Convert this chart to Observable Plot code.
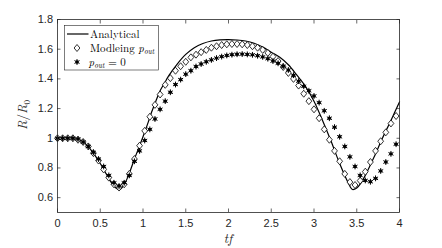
<!DOCTYPE html>
<html><head><meta charset="utf-8">
<script src="https://cdn.jsdelivr.net/npm/d3@7"></script>
<script src="https://cdn.jsdelivr.net/npm/@observablehq/plot@0.6"></script>
<style>body{margin:0;background:#fff} #chart{width:442px;height:248px}</style>
</head><body><div id="chart"></div>
<script>
// Analytical curve
const tLine = [0,0.1,0.2,0.25,0.3,0.35,0.4,0.45,0.5,0.55,0.6,0.65,0.7,0.72,0.75,0.8,0.85,0.9,0.95,1.0,1.05,1.1,1.15,1.2,1.25,1.3,1.4,1.5,1.6,1.7,1.8,1.9,2.0,2.1,2.2,2.3,2.4,2.5,2.6,2.7,2.8,2.9,3.0,3.1,3.2,3.3,3.4,3.45,3.5,3.55,3.6,3.7,3.8,3.9,4.0];
const rLine = [1.0,1.0,0.995,0.99,0.975,0.95,0.915,0.875,0.83,0.78,0.73,0.685,0.658,0.655,0.665,0.71,0.78,0.86,0.935,1.01,1.09,1.175,1.25,1.32,1.37,1.42,1.50,1.565,1.61,1.638,1.655,1.663,1.665,1.662,1.655,1.64,1.615,1.58,1.545,1.495,1.425,1.35,1.25,1.12,0.98,0.83,0.70,0.655,0.665,0.70,0.75,0.87,1.0,1.12,1.245];

// Sampled points
const tPts = [0,0.06,0.12,0.18,0.24,0.30,0.36,0.42,0.48,0.54,0.60,0.66,0.72,0.78,0.84,0.90,0.96,1.02,1.08,1.14,1.20,1.26,1.32,1.38,1.44,1.50,1.56,1.62,1.68,1.74,1.80,1.86,1.92,1.98,2.04,2.10,2.16,2.22,2.28,2.34,2.40,2.46,2.52,2.58,2.64,2.70,2.76,2.82,2.88,2.94,3.00,3.06,3.12,3.18,3.24,3.30,3.36,3.42,3.48,3.54,3.60,3.66,3.72,3.78,3.84,3.90,3.96];
const rModel = [1.0,1.0,1.0,1.0,0.99,0.975,0.945,0.90,0.85,0.79,0.735,0.69,0.668,0.69,0.76,0.86,0.95,1.05,1.145,1.225,1.295,1.36,1.405,1.455,1.485,1.515,1.545,1.563,1.58,1.595,1.61,1.62,1.628,1.633,1.635,1.635,1.633,1.628,1.62,1.61,1.595,1.575,1.55,1.52,1.48,1.44,1.40,1.355,1.30,1.25,1.195,1.135,1.06,0.99,0.915,0.845,0.76,0.705,0.685,0.715,0.775,0.84,0.915,0.98,1.04,1.10,1.15];
const rZero = [1.0,1.0,1.0,1.0,0.995,0.975,0.945,0.905,0.86,0.81,0.75,0.70,0.678,0.70,0.75,0.845,0.915,0.985,1.06,1.13,1.195,1.25,1.31,1.362,1.395,1.432,1.455,1.483,1.50,1.515,1.528,1.54,1.55,1.558,1.563,1.566,1.567,1.565,1.562,1.556,1.548,1.536,1.52,1.505,1.485,1.46,1.425,1.385,1.35,1.32,1.285,1.24,1.185,1.135,1.075,1.01,0.945,0.875,0.81,0.75,0.716,0.707,0.73,0.78,0.84,0.895,0.96];

const xTicks = [0,0.5,1,1.5,2,2.5,3,3.5,4];
const xTickLabels = ["0","0.5","1","1.5","2","2.5","3","3.5","4"];
const yTicks = [0.6,0.8,1,1.2,1.4,1.6,1.8];
const yTickLabels = ["0.6","0.8","1","1.2","1.4","1.6","1.8"];
const legendLabels = ["Analytical","Modleing ","= 0"];

const lineData = tLine.map((t,i)=>({t, r:rLine[i]}));
const modelData = tPts.map((t,i)=>({t, r:rModel[i]}));
const zeroData = tPts.map((t,i)=>({t, r:rZero[i]}));

const diamondSym = {draw(ctx){ const w=2.9, h=3.5; ctx.moveTo(0,-h); ctx.lineTo(w,0); ctx.lineTo(0,h); ctx.lineTo(-w,0); ctx.closePath(); }};
const AX = "#262626";

const plot = Plot.plot({
  width:442, height:248, marginLeft:57, marginRight:43, marginTop:19, marginBottom:36,
  style:{fontFamily:"'Liberation Sans', Arial, sans-serif", fontSize:"11px", color:AX, background:"white", overflow:"visible"},
  x:{domain:[0,4]}, y:{domain:[0.5,1.8]},
  marks:[
    Plot.axisX(xTicks,{anchor:"bottom", tickSize:0, tickPadding:7, tickFormat:d=>xTickLabels[xTicks.indexOf(d)], label:null, fill:AX}),
    Plot.axisY(yTicks,{anchor:"left", tickSize:0, tickPadding:4.5, tickFormat:d=>yTickLabels[yTicks.indexOf(d)], label:null, fill:AX}),
    Plot.axisX(xTicks,{anchor:"bottom", tickSize:3.5, dy:-3.5, tickFormat:()=>"", label:null, stroke:AX, strokeWidth:0.7}),
    Plot.axisX(xTicks,{anchor:"top", tickSize:3.5, dy:3.5, tickFormat:()=>"", label:null, stroke:AX, strokeWidth:0.7}),
    Plot.axisY(yTicks,{anchor:"left", tickSize:3.5, dx:3.5, tickFormat:()=>"", label:null, stroke:AX, strokeWidth:0.7}),
    Plot.axisY(yTicks,{anchor:"right", tickSize:3.5, dx:-3.5, tickFormat:()=>"", label:null, stroke:AX, strokeWidth:0.7}),
    Plot.line(lineData,{x:"t", y:"r", stroke:"black", strokeWidth:1.2, curve:"catmull-rom"}),
    Plot.dot(modelData,{x:"t", y:"r", symbol:diamondSym, r:3, stroke:"black", fill:"white", strokeWidth:0.8}),
    Plot.dot(zeroData,{x:"t", y:"r", r:1.7, fill:"black", stroke:"none"}),
    Plot.dot(zeroData,{x:"t", y:"r", symbol:"asterisk", r:2.7, stroke:"black", strokeWidth:1}),
    Plot.frame({stroke:AX, strokeWidth:0.8})
  ]
});
document.getElementById("chart").appendChild(plot);

const svg = d3.select(plot);
const serif = "'Latin Modern Roman','CMU Serif','Liberation Serif','DejaVu Serif',serif";

// axis labels
const yl = svg.append("text").attr("transform","translate(27,115) rotate(-90)")
  .attr("text-anchor","middle").attr("font-family",serif).attr("font-size",13).attr("fill",AX);
yl.append("tspan").attr("font-style","italic").text("R");
yl.append("tspan").text("/");
yl.append("tspan").attr("font-style","italic").text("R");
yl.append("tspan").attr("font-size",9).attr("dy",3).text("0");

svg.append("text").attr("x",228).attr("y",243).attr("text-anchor","middle")
  .attr("font-family",serif).attr("font-size",13).attr("font-style","italic").attr("fill",AX).text("tf");

// legend
const lg = svg.append("g").attr("text-anchor","start");
lg.append("rect").attr("x",64.5).attr("y",25.5).attr("width",94).attr("height",44.5)
  .attr("fill","white").attr("stroke",AX).attr("stroke-width",0.6);
lg.append("line").attr("x1",67).attr("x2",88.5).attr("y1",34).attr("y2",34).attr("stroke","black").attr("stroke-width",1.2);
lg.append("path").attr("d",()=>{const p=d3.path(); diamondSym.draw(p); return p.toString();})
  .attr("transform","translate(77,48)").attr("fill","white").attr("stroke","black").attr("stroke-width",0.8);
lg.append("circle").attr("cx",77).attr("cy",62).attr("r",1.7).attr("fill","black");
lg.append("path").attr("d",d3.symbol(d3.symbolAsterisk, 2.7*2.7*Math.PI)()).attr("transform","translate(77,62)")
  .attr("stroke","black").attr("stroke-width",1).attr("fill","none");

function lgText(x,y){ return lg.append("text").attr("x",x).attr("y",y).attr("text-anchor","start").attr("font-family",serif).attr("font-size",11).attr("fill","black"); }
lgText(90,37.5).text(legendLabels[0]);
const t2 = lgText(90,51.5); t2.append("tspan").text(legendLabels[1]);
t2.append("tspan").attr("font-style","italic").text("p");
t2.append("tspan").attr("font-style","italic").attr("font-size",7.5).attr("dy",2).text("out");
const t3 = lgText(88.5,65.5); t3.append("tspan").attr("font-style","italic").text("p");
t3.append("tspan").attr("font-style","italic").attr("font-size",7.5).attr("dy",2).text("out");
t3.append("tspan").attr("dy",-2).text(" "+legendLabels[2]);
</script>
</body></html>
